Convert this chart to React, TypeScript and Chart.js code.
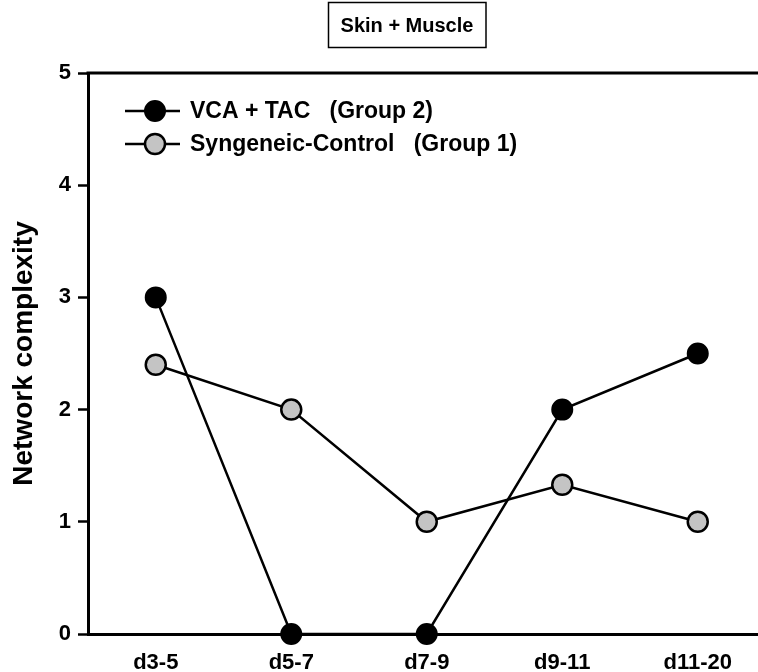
import React, { useEffect, useRef } from "react";
import { Chart, registerables } from "chart.js";

Chart.register(...registerables);

// Sampling windows (days post transplant)
const categories: string[] = ["d3-5", "d5-7", "d7-9", "d9-11", "d11-20"];

// Network complexity per window
const vcaTacValues: number[] = [3, 0, 0, 2, 2.5];
const syngeneicValues: number[] = [2.4, 2, 1, 1.33, 1];

const yTicks: number[] = [0, 1, 2, 3, 4, 5];

const seriesLabels: string[] = ["VCA + TAC   (Group 2)", "Syngeneic-Control   (Group 1)"];
const chartTitle = "Skin + Muscle";
const yAxisTitle = "Network complexity";

const FONT = "'Liberation Sans', Arial, Helvetica, sans-serif";

// Boxed title, top frame line and the line+marker legend
const decorations = {
  id: "decorations",
  afterDraw(chart: any) {
    const { ctx, chartArea } = chart;
    ctx.save();

    // top frame line
    ctx.strokeStyle = "#000";
    ctx.lineWidth = 3;
    ctx.beginPath();
    ctx.moveTo(chartArea.left - 1.5, chartArea.top);
    ctx.lineTo(chartArea.right, chartArea.top);
    ctx.stroke();

    // boxed title
    ctx.lineWidth = 1.5;
    ctx.strokeRect(328.5, 2.5, 157.5, 45);
    ctx.fillStyle = "#000";
    ctx.font = `bold 20px ${FONT}`;
    ctx.textAlign = "center";
    ctx.textBaseline = "middle";
    ctx.fillText(chartTitle, 407, 26);

    // legend
    const rows = [111, 144];
    chart.data.datasets.forEach((ds: any, i: number) => {
      const y = rows[i];
      ctx.strokeStyle = "#000";
      ctx.lineWidth = 2.5;
      ctx.beginPath();
      ctx.moveTo(125, y);
      ctx.lineTo(180, y);
      ctx.stroke();
      ctx.beginPath();
      ctx.arc(155, y, ds.pointRadius, 0, Math.PI * 2);
      ctx.fillStyle = ds.pointBackgroundColor;
      ctx.fill();
      ctx.lineWidth = ds.pointBorderWidth;
      ctx.strokeStyle = ds.pointBorderColor;
      ctx.stroke();
      ctx.fillStyle = "#000";
      ctx.font = `bold 23px ${FONT}`;
      ctx.textAlign = "left";
      ctx.textBaseline = "middle";
      ctx.fillText(ds.label, 190, y + 1);
    });

    ctx.restore();
  },
};

export default function App() {
  const canvasRef = useRef<HTMLCanvasElement | null>(null);

  useEffect(() => {
    const canvas = canvasRef.current;
    if (!canvas) return;
    const chart = new Chart(canvas, {
      type: "line",
      data: {
        labels: categories,
        datasets: [
          {
            label: seriesLabels[0],
            data: vcaTacValues,
            borderColor: "#000",
            borderWidth: 2.5,
            pointRadius: 10,
            pointBackgroundColor: "#000",
            pointBorderColor: "#000",
            pointBorderWidth: 2,
            tension: 0,
            clip: false,
          } as any,
          {
            label: seriesLabels[1],
            data: syngeneicValues,
            borderColor: "#000",
            borderWidth: 2.5,
            pointRadius: 10,
            pointBackgroundColor: "#c4c4c4",
            pointBorderColor: "#000",
            pointBorderWidth: 2.5,
            tension: 0,
            clip: false,
          } as any,
        ],
      },
      options: {
        responsive: false,
        animation: false,
        events: [],
        layout: { padding: { top: 73, right: 6, left: 0, bottom: 0 } },
        plugins: {
          legend: { display: false },
          tooltip: { enabled: false },
          title: { display: false },
        },
        scales: {
          x: {
            type: "category",
            offset: true,
            grid: { display: true, drawOnChartArea: false, drawTicks: false },
            border: { display: true, color: "#000", width: 3 },
            ticks: {
              color: "#000",
              font: { family: FONT, size: 22, weight: "bold" },
              padding: 16,
              maxRotation: 0,
            },
            afterFit: (scale: any) => {
              scale.height = 38;
            },
          },
          y: {
            min: 0,
            max: 5,
            afterBuildTicks: (scale: any) => {
              scale.ticks = yTicks.map((v) => ({ value: v }));
            },
            grid: {
              display: true,
              drawOnChartArea: false,
              drawTicks: true,
              tickLength: 10,
              tickWidth: 2.5,
              tickColor: "#000",
            },
            border: { display: true, color: "#000", width: 3 },
            ticks: {
              color: "#000",
              font: { family: FONT, size: 22, weight: "bold" },
              padding: 7,
            },
            title: {
              display: true,
              text: yAxisTitle,
              color: "#000",
              font: { family: FONT, size: 28, weight: "bold" },
              padding: { top: 7, bottom: 0 },
            },
            afterFit: (scale: any) => {
              scale.width = 88;
            },
          },
        },
      },
      plugins: [decorations],
    });
    return () => chart.destroy();
  }, []);

  return (
    <div
      style={{
        position: "fixed",
        left: 0,
        top: 0,
        width: 758,
        height: 672,
        overflow: "hidden",
        background: "#fff",
      }}
    >
      <canvas ref={canvasRef} width={778} height={672} style={{ display: "block" }} />
    </div>
  );
}
